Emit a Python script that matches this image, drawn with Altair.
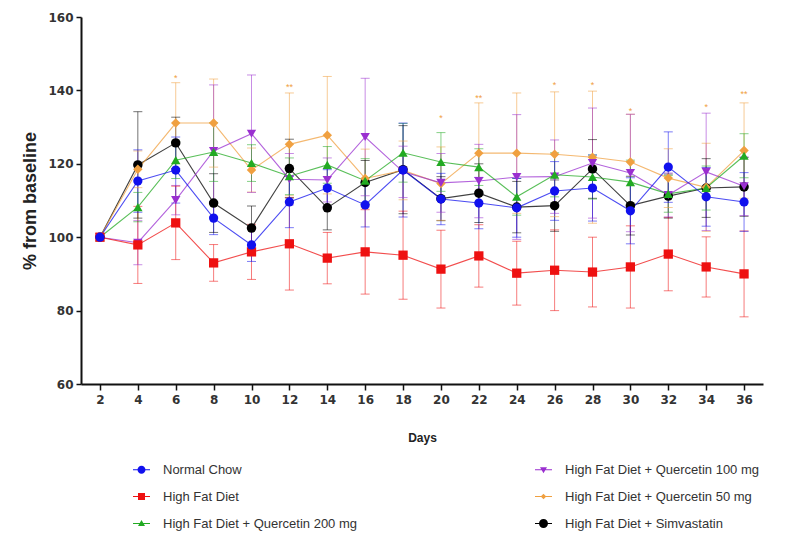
import altair as alt
import pandas as pd

days = [2, 4, 6, 8, 10, 12, 14, 16, 18, 20, 22, 24, 26, 28, 30, 32, 34, 36]

series_names = [
    "Normal Chow",
    "High Fat Diet",
    "High Fat Diet + Quercetin 200 mg",
    "High Fat Diet + Quercetin 100 mg",
    "High Fat Diet + Quercetin 50 mg",
    "High Fat Diet + Simvastatin",
]

nc = [100, 115.3, 118.3, 105.2, 97.9, 109.6, 113.4, 108.8, 118.3, 110.4, 109.3, 108.0, 112.6, 113.4, 107.2, 119.1, 111.0, 109.6]
hfd = [100, 97.9, 103.9, 93.0, 96.0, 98.2, 94.3, 96.0, 95.1, 91.3, 94.9, 90.2, 91.0, 90.5, 91.9, 95.4, 91.9, 90.0]
q200 = [100, 108.2, 121.0, 123.2, 120.2, 116.6, 119.7, 115.4, 123.0, 120.5, 119.1, 111.0, 117.0, 116.4, 115.0, 111.8, 113.4, 122.2]
q100 = [100, 98.5, 110.1, 123.5, 128.2, 115.8, 115.6, 127.3, 117.8, 114.8, 115.3, 116.4, 116.5, 120.2, 117.5, 111.5, 117.8, 113.9]
q50 = [100, 118.5, 131.1, 131.1, 118.3, 125.3, 127.8, 116.0, 118.2, 114.6, 122.9, 122.9, 122.6, 121.8, 120.5, 116.1, 113.6, 123.6]
simv = [100, 119.7, 125.7, 109.3, 102.5, 118.7, 108.0, 114.9, 118.4, 110.5, 112.0, 108.2, 108.6, 118.6, 108.6, 111.2, 113.4, 113.7]

nc_err = [0, 8.5, 9, 4.5, 4.5, 7, 5, 6, 12.8, 7, 7, 8, 8, 9, 9, 9.6, 8, 8]
hfd_err = [0, 10.5, 10, 5, 7.5, 12.6, 7, 11.5, 12, 10.6, 8.5, 8.7, 11, 9.5, 11.2, 10, 8.2, 11.7]
q200_err = [0, 4, 5, 8, 5, 5, 5, 6, 8, 8, 5, 5, 6, 6, 6, 5, 6, 6]
q100_err = [0, 6, 4, 18, 16, 7, 6, 16, 7, 8, 10, 17, 10, 15, 16, 6, 16, 8]
q50_err = [0, 5, 11, 12, 6, 14, 16, 8, 8, 10, 13.7, 16.4, 17, 18, 13, 8, 12, 13]
simv_err = [0, 14.5, 7, 8, 6, 8, 6, 6, 12, 6, 8, 7, 7, 8, 8, 6, 8, 8]

# significance marks
sig_days = [6, 12, 20, 22, 26, 28, 30, 34, 36]
sig_y = [143.5, 141.0, 132.5, 138.0, 141.5, 141.5, 134.5, 135.5, 139.0]
sig_text = ["*", "**", "*", "**", "*", "*", "*", "*", "**"]

values = [nc, hfd, q200, q100, q50, simv]
errors = [nc_err, hfd_err, q200_err, q100_err, q50_err, simv_err]

colors = ["#1010ee", "#ee1111", "#22aa22", "#9a2fd0", "#f0a040", "#000000"]
shapes = ["circle", "square", "triangle-up", "triangle-down", "diamond", "circle"]
sizes = [85, 90, 55, 65, 40, 130]

# legend symbols: marker with a line through it (unit box paths)
line = "M-1.7,-0.1H1.7V0.1H-1.7Z"
legend_paths = [
    line + "M-0.8,0A0.8,0.8 0 1,1 0.8,0A0.8,0.8 0 1,1 -0.8,0Z",
    line + "M-0.7,-0.7H0.7V0.7H-0.7Z",
    line + "M0,-0.7L0.7,0.5L-0.7,0.5Z",
    line + "M-0.7,-0.5L0.7,-0.5L0,0.7Z",
    line + "M0,-0.55L0.55,0L0,0.55L-0.55,0Z",
    line + "M-0.9,0A0.9,0.9 0 1,1 0.9,0A0.9,0.9 0 1,1 -0.9,0Z",
]

# draw order: blue on top
draw_order = [5, 4, 3, 2, 1, 0]
rows = []
for i in draw_order:
    for d, v, e in zip(days, values[i], errors[i]):
        rows.append({"series": series_names[i], "group": series_names[i], "day": d,
                     "value": v, "lo": v - e, "hi": v + e})
df = pd.DataFrame(rows)

sig_df = pd.DataFrame({"day": sig_days, "y": sig_y, "t": sig_text})

FONT = "Liberation Sans"
TICKFONT = "DejaVu Sans"

x_enc = alt.X(
    "day:Q",
    scale=alt.Scale(domain=[1, 37], nice=False, zero=False),
    axis=alt.Axis(
        values=days, title="Days", grid=False, domainColor="#111", domainWidth=2,
        tickColor="#111", tickWidth=1.5, tickSize=6, labelFont=TICKFONT, labelFontSize=12,
        labelFontWeight="bold", labelColor="#333", labelPadding=4, titleFont=FONT,
        titleFontSize=12, titleFontWeight="bold", titleColor="#222", titlePadding=27,
    ),
)
y_scale = alt.Scale(domain=[60, 160], nice=False, zero=False)
y_axis = alt.Axis(
    values=[60, 80, 100, 120, 140, 160], title="% from baseline", grid=False,
    domainColor="#111", domainWidth=2, tickColor="#111", tickWidth=1.5, tickSize=5,
    labelFont=TICKFONT, labelFontSize=12, labelFontWeight="bold", labelColor="#333",
    labelPadding=3, titleFont=FONT, titleFontSize=18, titleFontWeight="bold",
    titleColor="#222", titlePadding=8,
)

col = alt.Color("series:N", scale=alt.Scale(domain=series_names, range=colors), legend=None)

base = alt.Chart(df)

legend_layer = alt.Chart(df[df["day"] == 2]).mark_point(filled=True, opacity=1, size=1).encode(
    x="day:Q",
    y="value:Q",
    color=alt.Color(
        "group:N",
        scale=alt.Scale(domain=series_names, range=colors),
        legend=alt.Legend(
            title=None, orient="none", legendX=54, legendY=446, columns=2,
            columnPadding=177, rowPadding=13, labelFont=FONT, labelFontSize=13,
            labelColor="#333", labelOffset=15, symbolSize=100, symbolOpacity=1,
            symbolStrokeWidth=0, padding=0, labelLimit=400,
        ),
    ),
    shape=alt.Shape("group:N", scale=alt.Scale(domain=series_names, range=legend_paths)),
)

rules = base.mark_rule(strokeWidth=1, opacity=0.55).encode(
    x=x_enc, y=alt.Y("lo:Q", scale=y_scale, axis=y_axis), y2="hi:Q", color=col
)
cap_hi = base.mark_tick(orient="horizontal", size=9, thickness=1, opacity=0.55).encode(
    x="day:Q", y="hi:Q", color=col
)
cap_lo = base.mark_tick(orient="horizontal", size=9, thickness=1, opacity=0.55).encode(
    x="day:Q", y="lo:Q", color=col
)
lines = base.mark_line(strokeWidth=1.1, opacity=0.75).encode(
    x="day:Q", y="value:Q", color=col
)
points = base.mark_point(filled=True, opacity=1).encode(
    x="day:Q",
    y="value:Q",
    color=col,
    shape=alt.Shape("series:N", scale=alt.Scale(domain=series_names, range=shapes), legend=None),
    size=alt.Size("series:N", scale=alt.Scale(domain=series_names, range=sizes), legend=None),
)

sig = alt.Chart(sig_df).mark_text(color="#f0a040", fontSize=9, font=FONT, baseline="middle").encode(
    x="day:Q", y="y:Q", text="t:N"
)

chart = (
    alt.layer(rules, legend_layer, cap_hi, cap_lo, lines, points, sig)
    .resolve_scale(color="independent", shape="independent")
    .properties(
        width=682, height=367, autosize=alt.AutoSizeParams(type="none"),
        padding={"left": 81, "top": 17, "right": 43, "bottom": 151},
        background="white",
    )
    .configure_view(stroke=None)
)

chart.save("out.html", embed_options={"renderer": "svg", "actions": False})
